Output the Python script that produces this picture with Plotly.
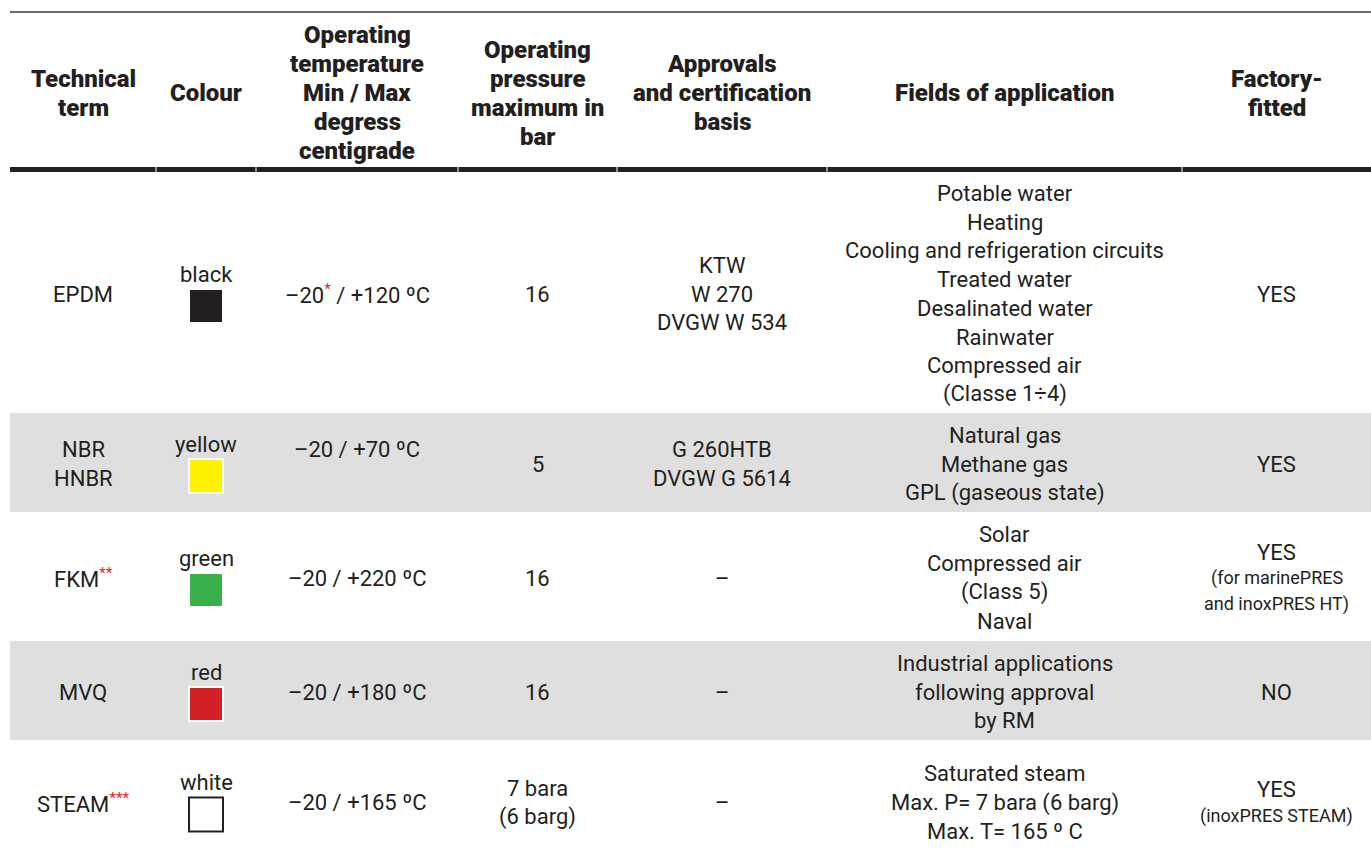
import plotly.graph_objects as go

# ---------------- data ----------------
HEADERS = [
    ["Technical", "term"],
    ["Colour"],
    ["Operating", "temperature", "Min / Max", "degress", "centigrade"],
    ["Operating", "pressure", "maximum in", "bar"],
    ["Approvals", "and certification", "basis"],
    ["Fields of application"],
    ["Factory-", "fitted"],
]
TERMS = [["EPDM"], ["NBR", "HNBR"], ["FKM"], ["MVQ"], ["STEAM"]]
TERM_MARKS = ["", "", "**", "", "***"]
COLOUR_NAMES = ["black", "yellow", "green", "red", "white"]
SWATCH_COLOURS = ["#231f20", "#fff200", "#39b14a", "#d42128", "#ffffff"]
TEMP_MIN = ["–20", "–20", "–20", "–20", "–20"]
TEMP_MIN_MARK = ["*", "", "", "", ""]
TEMP_MAX = ["+120", "+70", "+220", "+180", "+165"]
PRESSURE = [["16"], ["5"], ["16"], ["16"], ["7 bara", "(6 barg)"]]
APPROVALS = [["KTW", "W 270", "DVGW W 534"], ["G 260HTB", "DVGW G 5614"], ["–"], ["–"], ["–"]]
FIELDS = [
    ["Potable water", "Heating", "Cooling and refrigeration circuits", "Treated water",
     "Desalinated water", "Rainwater", "Compressed air", "(Classe 1÷4)"],
    ["Natural gas", "Methane gas", "GPL (gaseous state)"],
    ["Solar", "Compressed air", "(Class 5)", "Naval"],
    ["Industrial applications", "following approval", "by RM"],
    ["Saturated steam", "Max. P= 7 bara (6 barg)", "Max. T= 165 º C"],
]
FACTORY = ["YES", "YES", "YES", "NO", "YES"]
FACTORY_NOTES = [[], [], ["(for marinePRES", "and inoxPRES HT)"], [], ["(inoxPRES STEAM)"]]

# ---------------- layout / style ----------------
W, H = 1371, 853
COL_EDGES = [10, 156, 256, 458, 617, 827, 1182, 1371]
ROW_EDGES = [172, 413, 512, 641, 740, 862]
TOP_RULE_Y = 12
THICK_RULE = (167, 172)
HEADER_CY = 93
TXT = "#231f20"
RED = "#ed1c24"
GREY = "#dfdfdf"
FONT = "Roboto, 'Liberation Sans', Arial, sans-serif"
BODY = 22
HEAD = 24
NOTE = 18

col_cx = [(COL_EDGES[i] + COL_EDGES[i + 1]) / 2 for i in range(len(COL_EDGES) - 1)]
row_cy = [(ROW_EDGES[i] + ROW_EDGES[i + 1]) / 2 + 1.5 for i in range(len(ROW_EDGES) - 1)]

fig = go.Figure()
shapes = []
annotations = []


def add_text(x, y, text, size=BODY, bold=False):
    annotations.append(dict(
        x=x, y=y, xref="x", yref="y", text=text,
        showarrow=False, xanchor="center", yanchor="middle",
        font=dict(family=FONT, size=size, color=TXT, weight=900 if bold else "normal"),
    ))


def add_lines(x, yc, lines, size=BODY, bold=False, spacing=28.7):
    n = len(lines)
    ys = []
    for i, ln in enumerate(lines):
        y = yc + (i - (n - 1) / 2) * spacing
        ys.append(y)
        add_text(x, y, ln, size, bold)
    return ys


def mark(s):
    return f"<sup><span style='color:{RED}'>{s}</span></sup>" if s else ""


# alternating row backgrounds
for r in range(len(TERMS)):
    if r % 2 == 1:
        shapes.append(dict(type="rect", xref="x", yref="y", x0=COL_EDGES[0], x1=COL_EDGES[-1],
                           y0=ROW_EDGES[r], y1=ROW_EDGES[r + 1], fillcolor=GREY, line=dict(width=0),
                           layer="below"))

# rules
shapes.append(dict(type="line", xref="x", yref="y", x0=COL_EDGES[0], x1=COL_EDGES[-1],
                   y0=TOP_RULE_Y, y1=TOP_RULE_Y, line=dict(color="#3a3a3a", width=1.3)))
shapes.append(dict(type="rect", xref="x", yref="y", x0=COL_EDGES[0], x1=COL_EDGES[-1],
                   y0=THICK_RULE[0], y1=THICK_RULE[1], fillcolor=TXT, line=dict(width=0)))
for xe in COL_EDGES[1:-1]:
    shapes.append(dict(type="line", xref="x", yref="y", x0=xe, x1=xe,
                       y0=THICK_RULE[0] - 1, y1=THICK_RULE[1] + 1, line=dict(color="#ffffff", width=1)))

# header
for c, lines in enumerate(HEADERS):
    add_lines(col_cx[c], HEADER_CY, lines, size=HEAD, bold=True, spacing=29)

# body rows
SW = 32
for r in range(len(TERMS)):
    cy = row_cy[r]
    # technical term
    tl = list(TERMS[r])
    tl[-1] = tl[-1] + mark(TERM_MARKS[r])
    term_ys = add_lines(col_cx[0], cy, tl)
    # colour
    add_text(col_cx[1], cy - 20, COLOUR_NAMES[r])
    sq_c = cy + 12
    is_white = SWATCH_COLOURS[r].lower() == "#ffffff"
    shapes.append(dict(type="rect", xref="x", yref="y",
                       x0=col_cx[1] - SW / 2 - 1, x1=col_cx[1] + SW / 2 + 1,
                       y0=sq_c - SW / 2 - 1, y1=sq_c + SW / 2 + 1,
                       fillcolor=SWATCH_COLOURS[r],
                       line=dict(color=TXT if is_white else "#ffffff", width=2)))
    # temperature (aligned with first line of the term when it spans lines)
    t_y = term_ys[0] if len(term_ys) > 1 else cy
    add_text(col_cx[2], t_y, f"{TEMP_MIN[r]}{mark(TEMP_MIN_MARK[r])} / {TEMP_MAX[r]} ºC")
    # pressure
    add_lines(col_cx[3], cy, PRESSURE[r])
    # approvals
    add_lines(col_cx[4], cy, APPROVALS[r])
    # fields
    add_lines(col_cx[5], cy, FIELDS[r])
    # factory fitted
    notes = FACTORY_NOTES[r]
    if notes:
        n = len(notes) + 1
        sp = 26
        y0 = cy - (n - 1) / 2 * sp
        add_text(col_cx[6], y0, FACTORY[r])
        for i, nt in enumerate(notes):
            add_text(col_cx[6], y0 + (i + 1) * sp, nt, size=NOTE)
    else:
        add_text(col_cx[6], cy, FACTORY[r])

fig.update_layout(
    width=W, height=H, margin=dict(l=0, r=0, t=0, b=0),
    paper_bgcolor="#ffffff", plot_bgcolor="#ffffff",
    xaxis=dict(range=[0, W], visible=False, fixedrange=True),
    yaxis=dict(range=[H, 0], visible=False, fixedrange=True),
    shapes=shapes, annotations=annotations, showlegend=False,
)

fig.write_html("out.html", config={"displayModeBar": False},
               post_script="document.body.style.margin='0';")
